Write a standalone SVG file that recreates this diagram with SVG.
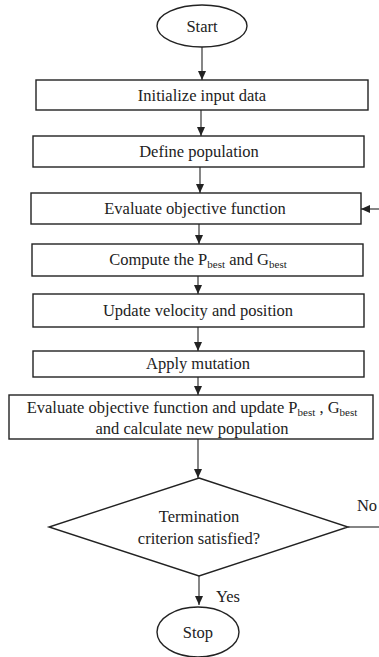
<svg xmlns="http://www.w3.org/2000/svg" width="379" height="657" viewBox="0 0 379 657">
<style>
.s{fill:#fff;stroke:#222;stroke-width:1.4}
.t{font-family:"Liberation Serif","Times New Roman",serif;font-size:16.5px;fill:#222;text-anchor:middle}
.sub{font-size:11px}
.c{fill:none;stroke:#222;stroke-width:1.1}
</style>
<defs>
<marker id="ah" markerWidth="10" markerHeight="10" refX="9" refY="5" orient="auto" markerUnits="userSpaceOnUse">
<path d="M0,1 L9,5 L0,9 Z" fill="#222"/>
</marker>
</defs>
<rect width="379" height="657" fill="#fff"/>
<g id="connectors">
<line class="c" x1="202" y1="47" x2="202" y2="80" marker-end="url(#ah)"/>
<line class="c" x1="201" y1="110" x2="201" y2="136" marker-end="url(#ah)"/>
<line class="c" x1="200" y1="167" x2="200" y2="193" marker-end="url(#ah)"/>
<line class="c" x1="199" y1="224" x2="199" y2="244" marker-end="url(#ah)"/>
<line class="c" x1="198" y1="276" x2="198" y2="294" marker-end="url(#ah)"/>
<line class="c" x1="198" y1="327" x2="198" y2="351" marker-end="url(#ah)"/>
<line class="c" x1="198" y1="377" x2="198" y2="395" marker-end="url(#ah)"/>
<line class="c" x1="198" y1="439" x2="198" y2="478" marker-end="url(#ah)"/>
<line class="c" x1="199" y1="576" x2="199" y2="605" marker-end="url(#ah)"/>
<line class="c" x1="348" y1="527" x2="379" y2="527"/>
<line class="c" x1="379" y1="209" x2="361" y2="209" marker-end="url(#ah)"/>
<text class="t" x="228" y="602">Yes</text>
<text class="t" x="367" y="511">No</text>
</g>
<g id="start">
<ellipse class="s" cx="202" cy="26" rx="45" ry="21"/>
<text class="t" x="202" y="32">Start</text>
</g>
<g id="init">
<rect class="s" x="36" y="80" width="332" height="30"/>
<text class="t" x="202" y="101">Initialize input data</text>
</g>
<g id="define">
<rect class="s" x="33" y="136" width="331" height="31"/>
<text class="t" x="199" y="157">Define population</text>
</g>
<g id="evaluate">
<rect class="s" x="31" y="193" width="330" height="31"/>
<text class="t" x="195" y="214">Evaluate objective function</text>
</g>
<g id="compute">
<rect class="s" x="32" y="244" width="331" height="32"/>
<text class="t" x="198" y="265">Compute the P<tspan class="sub" dy="3">best</tspan><tspan dy="-3"> and G</tspan><tspan class="sub" dy="3">best</tspan></text>
</g>
<g id="update">
<rect class="s" x="33" y="294" width="331" height="33"/>
<text class="t" x="198" y="316">Update velocity and position</text>
</g>
<g id="mutation">
<rect class="s" x="33" y="351" width="331" height="26"/>
<text class="t" x="198" y="369">Apply mutation</text>
</g>
<g id="evaluate2">
<rect class="s" x="9" y="395" width="364" height="44"/>
<text class="t" x="192" y="413">Evaluate objective function and update P<tspan class="sub" dy="3">best</tspan><tspan dy="-3"> , G</tspan><tspan class="sub" dy="3">best</tspan></text>
<text class="t" x="192" y="434">and calculate new population</text>
</g>
<g id="decision">
<polygon class="s" points="199,478 348,527 199,576 49,527"/>
<text class="t" x="199" y="522">Termination</text>
<text class="t" x="199" y="544">criterion satisfied?</text>
</g>
<g id="stop">
<ellipse class="s" cx="198" cy="632" rx="41" ry="25"/>
<text class="t" x="198" y="638">Stop</text>
</g>
</svg>
